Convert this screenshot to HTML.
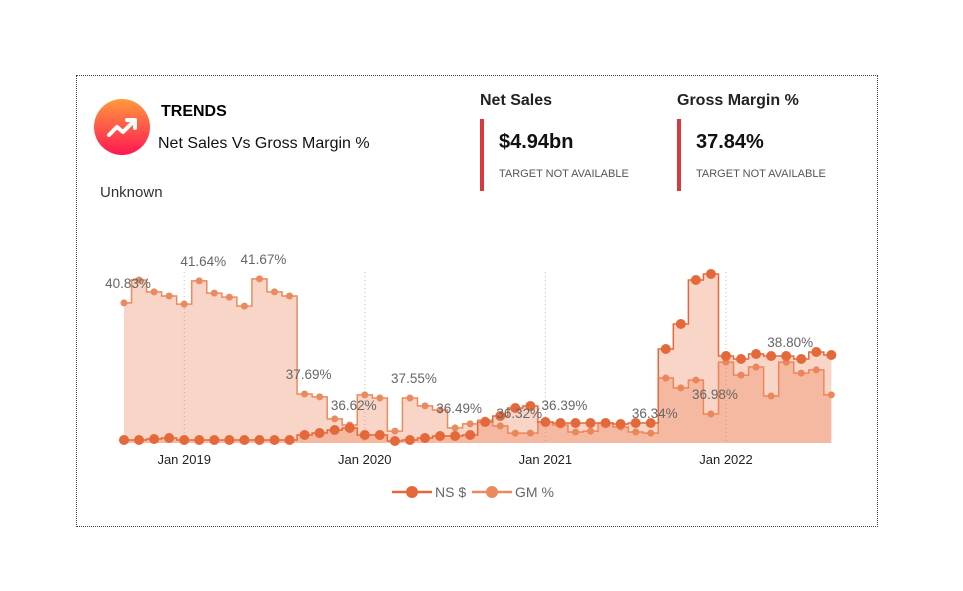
<!DOCTYPE html>
<html><head><meta charset="utf-8"><style>
body{margin:0;width:963px;height:591px;background:#fff;font-family:"Segoe UI","Liberation Sans",sans-serif;position:relative;overflow:hidden}
.a{position:absolute;white-space:nowrap}
</style></head><body>
<div class="a" style="left:76px;top:75px;width:800px;height:450px;border:1px dotted #444"></div>
<div class="a" style="left:94px;top:99px;width:56px;height:56px;border-radius:50%;background:linear-gradient(#ff9a3c,#ff1654)">
<svg width="56" height="56"><polyline points="15,36 23,28 29,33 40,22" fill="none" stroke="#fff" stroke-width="4" stroke-linecap="round" stroke-linejoin="round"/><polyline points="33,21 41,21 41,29" fill="none" stroke="#fff" stroke-width="4" stroke-linecap="round" stroke-linejoin="round"/></svg></div>
<div class="a" style="left:161px;top:103px;font-size:16px;font-weight:bold;color:#000">TRENDS</div>
<div class="a" style="left:158px;top:135px;font-size:16px;color:#111">Net Sales Vs Gross Margin %</div>
<div class="a" style="left:100px;top:184px;font-size:15px;color:#333">Unknown</div>
<div class="a" style="left:480px;top:92px;font-size:16px;color:#222;font-weight:600">Net Sales</div>
<div class="a" style="left:480px;top:119px;width:4px;height:72px;background:#d9393e"></div>
<div class="a" style="left:499px;top:131px;font-size:20px;font-weight:bold;color:#111">$4.94bn</div>
<div class="a" style="left:499px;top:168px;font-size:11px;color:#555">TARGET NOT AVAILABLE</div>
<div class="a" style="left:677px;top:92px;font-size:16px;color:#222;font-weight:600">Gross Margin %</div>
<div class="a" style="left:677px;top:119px;width:4px;height:72px;background:#d9393e"></div>
<div class="a" style="left:696px;top:131px;font-size:20px;font-weight:bold;color:#111">37.84%</div>
<div class="a" style="left:696px;top:168px;font-size:11px;color:#555">TARGET NOT AVAILABLE</div>
<svg id="chart" class="a" style="left:0;top:0" width="963" height="591"></svg>
<script>
const gmValues=[40.83,41.62,41.21,41.07,40.79,41.59,41.17,41.03,40.72,41.66,41.21,41.07,37.69,37.59,36.83,36.62,37.66,37.55,36.41,37.55,37.28,37.14,36.52,36.66,36.79,36.59,36.34,36.34,36.72,36.62,36.38,36.41,36.69,36.55,36.38,36.34,38.24,37.90,38.17,37.00,38.79,38.34,38.62,37.62,38.79,38.41,38.52,37.66];
const nsValues=[6,6,8,10,6,6,6,6,6,6,6,6,16,20,26,30,16,16,4,6,10,14,14,16,42,54,70,74,42,40,40,40,40,38,40,40,188,238,326,338,174,168,178,174,174,168,182,176];
const tickLabels=["Jan 2019","Jan 2020","Jan 2021","Jan 2022"];
const tickIndex=[4,16,28,40];
const labelIndex=[0,5,9,12,15,19,22,26,29,35,39,44];
const labelText=["40.83%","41.64%","41.67%","37.69%","36.62%","37.55%","36.49%","36.32%","36.39%","36.34%","36.98%","38.80%"];
const NS="http://www.w3.org/2000/svg",svg=document.getElementById('chart');
const x=i=>124+i*15.05, base=443;
const yG=v=>base-(v-36)*29, yN=v=>base-v*0.5;
function mk(t,a,p){const e=document.createElementNS(NS,t);for(const k in a)e.setAttribute(k,a[k]);(p||svg).appendChild(e);return e;}
function stepPath(vals,f){let d=`M${x(0)},${f(vals[0])}`;for(let i=1;i<vals.length;i++){const m=(x(i-1)+x(i))/2;d+=` H${m} V${f(vals[i])}`;}d+=` H${x(vals.length-1)}`;return d;}
tickIndex.forEach((ti,k)=>{
 const g=mk('line',{x1:x(ti),x2:x(ti),y1:272,y2:base,stroke:'#bbb','stroke-dasharray':'1,3'});
 
 const t=mk('text',{x:x(ti),y:464,'text-anchor':'middle','font-size':13,fill:'#222'});t.textContent=tickLabels[k];
 
});
[[gmValues,yG,'#ea8a5e',3.5,'gm'],[nsValues,yN,'#e5683a',5,'ns']].forEach(([vals,f,c,r,n])=>{
 const p=stepPath(vals,f);
 const a=mk('path',{d:p+` V${base} H${x(0)} Z`,fill:'rgba(236,128,84,0.33)'});
 
 const l=mk('path',{d:p,fill:'none',stroke:c,'stroke-width':1.5});
 
 vals.forEach((v,i)=>{const d=mk('circle',{cx:x(i),cy:f(v),r:r,fill:c});
 });
});
labelIndex.forEach((li,k)=>{const t=mk('text',{x:x(li)+4,y:yG(gmValues[li])-15,'text-anchor':'middle','font-size':13.5,fill:'#666'});t.textContent=labelText[k];
 });
[[392,'#e5683a',5,'NS $','legend-ns'],[472,'#ea8a5e',5,'GM %','legend-gm']].forEach(([lx,c,r,txt,n])=>{
 const g=mk('g',{});
 mk('line',{x1:lx,x2:lx+40,y1:492,y2:492,stroke:c,'stroke-width':2.5},g);
 mk('circle',{cx:lx+20,cy:492,r:6,fill:c},g);
 const t=mk('text',{x:lx+43,y:497,'font-size':14,fill:'#666'},g);t.textContent=txt;
});
</script>
</body></html>
